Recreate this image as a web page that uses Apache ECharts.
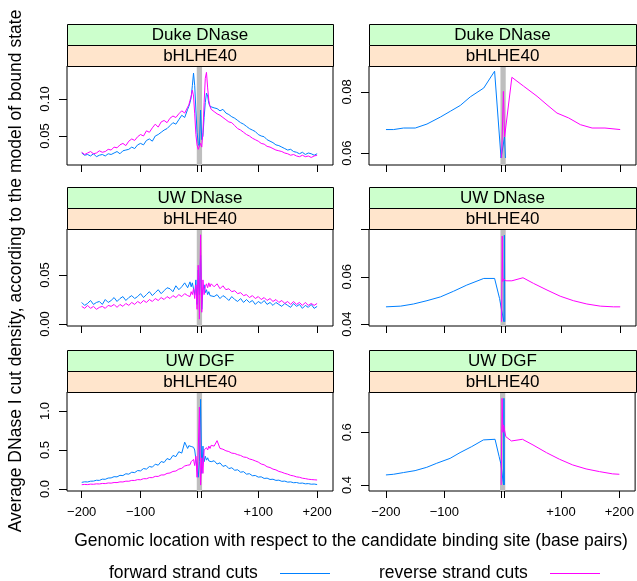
<!DOCTYPE html>
<html>
<head>
<meta charset="utf-8">
<script src="https://cdn.jsdelivr.net/npm/echarts@6/dist/echarts.min.js"></script>
<style>
html, body { margin: 0; padding: 0; background: #fff; }
#chart { width: 637px; height: 581px; }
</style>
</head>
<body>
<div id="chart"></div>
<script>
// strip labels
var datasets = ['Duke DNase', 'UW DNase', 'UW DGF'];
var factorName = 'bHLHE40';
var seriesNames = ['forward strand cuts', 'reverse strand cuts'];

// axis ticks
var xTicks = [-200, -100, -3, 3, 100, 200];
var xTickLabels = [-200, -100, 100, 200];
var yTicksLeft = [[0.05, 0.10], [0.00, 0.05], [0.0, 0.5, 1.0]];
var yLabelsLeft = [[0.05, 0.10], [0.00, 0.05], [0.0, 0.5, 1.0]];
var yTicksRight = [[0.06, 0.08], [0.04, 0.06, 0.08], [0.4, 0.6]];
var yLabelsRight = [[0.06, 0.08], [0.04, 0.06], [0.4, 0.6]];
var yDigits = [2, 2, 1];

// observed cut density, left column (per position)
var posObs = [-200,-195,-190,-185,-180,-175,-170,-165,-160,-155,-150,-145,-140,-135,-130,-125,-120,-115,-110,-105,-100,-95,-90,-85,-80,-75,-70,-65,-60,-55,-50,-45,-40,-35,-30,-25,-20,
  -18,-16,-14,-12,-10,-8,-6,-4,-2,0,2,4,6,8,10,12,14,16,18,
  20,25,30,35,40,45,50,55,60,65,70,75,80,85,90,95,100,105,110,115,120,125,130,135,140,145,150,155,160,165,170,175,180,185,190,195,200];

var dukeFwd = [.027,.024,.025,.023,.026,.022,.024,.025,.023,.026,.025,.027,.029,.026,.030,.031,.032,.035,.033,.038,.040,.038,.044,.046,.043,.050,.052,.055,.058,.060,.064,.068,.066,.072,.078,.075,.086,
  .090,.095,.102,.118,.135,.118,.085,.055,.040,.036,.085,.045,.050,.075,.095,.108,.104,.094,.090,
  .090,.088,.087,.084,.086,.081,.079,.076,.074,.071,.068,.066,.063,.060,.058,.056,.052,.050,.049,.045,.043,.041,.038,.037,.035,.033,.031,.032,.029,.028,.026,.028,.025,.027,.026,.024,.026];
var dukeRev = [.028,.025,.027,.029,.026,.027,.030,.028,.029,.032,.031,.035,.034,.038,.040,.037,.043,.046,.044,.049,.052,.050,.057,.055,.061,.066,.062,.069,.071,.068,.074,.077,.075,.080,.084,.081,.089,
  .092,.098,.104,.112,.104,.080,.052,.038,.032,.034,.040,.035,.055,.095,.128,.136,.115,.098,.090,
  .086,.083,.080,.078,.075,.072,.069,.068,.064,.060,.058,.055,.052,.050,.047,.045,.043,.040,.039,.036,.035,.033,.031,.030,.029,.027,.026,.024,.025,.023,.022,.024,.022,.023,.021,.023,.024];

var uwFwd = [.022,.019,.021,.024,.020,.022,.023,.020,.025,.022,.024,.027,.023,.026,.028,.024,.027,.029,.026,.028,.031,.027,.030,.033,.029,.032,.035,.031,.034,.037,.036,.033,.039,.035,.038,.042,.037,
  .040,.043,.038,.042,.040,.030,.045,.020,.055,.030,.070,.015,.035,.040,.032,.035,.030,.033,.029,
  .031,.028,.030,.026,.029,.027,.024,.028,.025,.023,.026,.022,.025,.022,.024,.020,.023,.021,.024,.020,.022,.019,.022,.020,.018,.021,.019,.017,.021,.018,.020,.016,.019,.017,.020,.016,.018];
var uwRev = [.018,.016,.019,.016,.018,.015,.017,.018,.016,.019,.018,.020,.017,.020,.018,.021,.019,.022,.020,.023,.021,.024,.022,.025,.023,.026,.024,.027,.025,.028,.026,.029,.027,.030,.028,.031,.029,
  .031,.028,.033,.030,.036,.026,.040,.015,.060,.005,.091,.012,.045,.030,.038,.041,.037,.042,.038,
  .041,.038,.041,.036,.039,.035,.036,.033,.034,.031,.032,.029,.030,.027,.029,.026,.028,.025,.027,.024,.026,.023,.025,.022,.024,.021,.023,.020,.023,.020,.022,.019,.022,.019,.021,.019,.021];

var dgfFwd = [.085,.092,.090,.100,.101,.112,.110,.126,.124,.140,.142,.158,.155,.175,.172,.195,.190,.215,.210,.236,.232,.262,.255,.288,.280,.318,.305,.352,.340,.390,.375,.430,.415,.478,.460,.600,.520,
  .555,.530,.545,.520,.535,.500,.380,.250,.150,.350,1.15,.200,.550,.350,.420,.370,.400,.360,.380,
  .350,.362,.320,.335,.290,.302,.262,.272,.240,.246,.215,.222,.190,.196,.170,.173,.152,.156,.135,.139,.122,.125,.110,.113,.098,.101,.088,.091,.080,.083,.073,.076,.066,.069,.061,.063,.057];
var dgfRev = [.055,.058,.056,.062,.060,.066,.064,.071,.069,.077,.075,.083,.082,.091,.090,.100,.099,.110,.109,.120,.118,.132,.131,.146,.145,.162,.161,.180,.180,.200,.205,.225,.230,.255,.265,.295,.305,
  .330,.310,.350,.330,.380,.300,.420,.150,.500,1.05,.050,.400,.200,.500,.480,.530,.500,.550,.520,
  .560,.550,.620,.520,.510,.490,.480,.460,.455,.440,.430,.410,.405,.385,.375,.360,.345,.320,.310,.285,.275,.255,.245,.225,.215,.200,.190,.175,.168,.155,.150,.138,.133,.125,.121,.118,.115];

// model of bound state, right column
var dukeFwdModelPos = [-200,-187,-170,-150,-130,-107,-90,-73,-56,-33,-14.5,-3.5,2.5,4];
var dukeFwdModel = [.0677,.0677,.0682,.0682,.0695,.0718,.0737,.0756,.0784,.0813,.0868,.0584,.0653,.0584];
var dukeRevModelPos = [-2.5,0.5,2.6,15,35,58,75,92,112,132,152,174,200];
var dukeRevModel = [.0584,.0802,.0653,.0848,.0819,.0786,.0758,.0731,.0715,.0693,.0682,.0682,.0677];

var uwFwdModelPos = [-200,-175,-153,-130,-107,-84.5,-62,-33,-14.5,-6,-3,1.5,2.2,3];
var uwFwdModel = [.0473,.0476,.0485,.0499,.0515,.0539,.0565,.0593,.0593,.0508,.0465,.041,.0776,.041];
var uwRevModelPos = [-2.5,-1.5,-0.5,1,4.8,15,34,52,75,97.5,120,143,166,188.5,200];
var uwRevModel = [.041,.0772,.058,.059,.0583,.0583,.0596,.0572,.0544,.0518,.0499,.0485,.0476,.0473,.0473];

var dgfFwdModelPos = [-200,-187,-170,-150,-130,-113,-90,-73,-53,-33,-13,-6,-3,1.5,2.2,3];
var dgfFwdModel = [.438,.4405,.447,.4544,.467,.4823,.501,.5228,.5456,.571,.5734,.5076,.4797,.40,.729,.40];
var dgfRevModelPos = [-2.5,-1,0.5,1.5,5.4,15,34,52,75,97.5,120,143,166,188.5,200];
var dgfRevModel = [.40,.729,.60,.628,.5835,.567,.5734,.552,.5228,.4975,.476,.4608,.4506,.442,.4405];

// layout
var FONT = 'Liberation Sans, Arial, Helvetica, sans-serif';
var BLUE = '#0080ff', MAGENTA = '#ff00ff';
var rows = [{top: 66, bottom: 165}, {top: 229, bottom: 326}, {top: 392, bottom: 491}];
var cols = [{left: 67, width: 266}, {left: 369, width: 267}];
var xRange = [[-225, 227], [-229, 227]];
var yRangeLeft = [[0.0108, 0.1446], [-0.002, 0.0969], [-0.026, 1.244]];
var yRangeRight = [[0.0561, 0.0885], [0.0392, 0.0802], [0.377, 0.753]];

function pairs(xs, ys) {
  return xs.map(function (x, i) { return [x, ys[i]]; });
}

var panelData = [
  [[posObs, dukeFwd], [posObs, dukeRev], [dukeFwdModelPos, dukeFwdModel], [dukeRevModelPos, dukeRevModel]],
  [[posObs, uwFwd], [posObs, uwRev], [uwFwdModelPos, uwFwdModel], [uwRevModelPos, uwRevModel]],
  [[posObs, dgfFwd], [posObs, dgfRev], [dgfFwdModelPos, dgfFwdModel], [dgfRevModelPos, dgfRevModel]]
];

var grids = [], xAxes = [], yAxes = [], series = [], graphics = [];

for (var r = 0; r < 3; r++) {
  for (var c = 0; c < 2; c++) {
    var idx = r * 2 + c;
    var col = cols[c], row = rows[r];
    grids.push({
      left: col.left, top: row.top, width: col.width, height: row.bottom - row.top,
      show: true, borderColor: '#000', borderWidth: 1, backgroundColor: 'transparent'
    });
    xAxes.push({
      gridIndex: idx, type: 'value', min: xRange[c][0], max: xRange[c][1], position: 'bottom',
      axisLine: {show: false, onZero: false}, splitLine: {show: false},
      axisTick: {show: true, inside: false, length: 7, lineStyle: {color: '#000'}, customValues: xTicks},
      axisLabel: {
        show: r === 2, customValues: xTickLabels, margin: 15,
        fontFamily: FONT, fontSize: 13, color: '#000',
        formatter: function (v) { return v < 0 ? '\u2212' + (-v) : '+' + v; }
      }
    });
    var yr = c === 0 ? yRangeLeft[r] : yRangeRight[r];
    var digits = yDigits[r];
    yAxes.push({
      gridIndex: idx, type: 'value', min: yr[0], max: yr[1], position: 'left',
      axisLine: {show: false, onZero: false}, splitLine: {show: false},
      axisTick: {show: true, inside: false, length: 8, lineStyle: {color: '#000'},
        customValues: c === 0 ? yTicksLeft[r] : yTicksRight[r]},
      axisLabel: {
        customValues: c === 0 ? yLabelsLeft[r] : yLabelsRight[r],
        rotate: 90, margin: 15, align: 'center', verticalAlign: 'bottom',
        fontFamily: FONT, fontSize: 13, color: '#000',
        formatter: (function (d) { return function (v) { return v.toFixed(d); }; })(digits)
      }
    });
    var pd = panelData[r];
    var fwd = c === 0 ? pd[0] : pd[2];
    var rev = c === 0 ? pd[1] : pd[3];
    series.push({
      name: seriesNames[0], type: 'line', xAxisIndex: idx, yAxisIndex: idx,
      data: pairs(fwd[0], fwd[1]), symbol: 'none', lineStyle: {color: BLUE, width: 1},
      itemStyle: {color: BLUE},
      markArea: {silent: true, itemStyle: {color: '#bebebe'},
        data: [[{xAxis: -4.5}, {xAxis: 4.5}]]}
    });
    series.push({
      name: seriesNames[1], type: 'line', xAxisIndex: idx, yAxisIndex: idx,
      data: pairs(rev[0], rev[1]), symbol: 'none', lineStyle: {color: MAGENTA, width: 1},
      itemStyle: {color: MAGENTA}
    });
    // strips
    var stripTexts = [datasets[r], factorName];
    var stripFills = ['#ccffcc', '#ffe5cc'];
    for (var s = 0; s < 2; s++) {
      var sy = row.top - 42 + s * 21;
      graphics.push({
        type: 'rect', shape: {x: col.left + 0.5, y: sy + 0.5, width: col.width, height: 21},
        style: {fill: stripFills[s], stroke: '#000', lineWidth: 1}, z: 10
      });
      graphics.push({
        type: 'text', x: col.left + col.width / 2, y: sy + 11.5, z: 11,
        style: {text: stripTexts[s], fontFamily: FONT, fontSize: 17, fill: '#000',
          textAlign: 'center', textVerticalAlign: 'middle'}
      });
    }
  }
}

// axis titles
graphics.push({
  type: 'text', x: 16.5, y: 271, rotation: Math.PI / 2, z: 11,
  style: {text: 'Average DNase I cut density, according to the model of bound state',
    fontFamily: FONT, fontSize: 17.5, fill: '#000', textAlign: 'center', textVerticalAlign: 'middle'}
});
graphics.push({
  type: 'text', x: 351, y: 541, z: 11,
  style: {text: 'Genomic location with respect to the candidate binding site (base pairs)',
    fontFamily: FONT, fontSize: 17.5, fill: '#000', textAlign: 'center', textVerticalAlign: 'middle'}
});

// legend
var legendItems = [
  {text: seriesNames[0], x: 109, lx: 280, color: BLUE},
  {text: seriesNames[1], x: 379, lx: 550, color: MAGENTA}
];
legendItems.forEach(function (it) {
  graphics.push({
    type: 'text', x: it.x, y: 573, z: 11,
    style: {text: it.text, fontFamily: FONT, fontSize: 17.5, fill: '#000',
      textAlign: 'left', textVerticalAlign: 'middle'}
  });
  graphics.push({
    type: 'line', shape: {x1: it.lx, y1: 573.5, x2: it.lx + 50, y2: 573.5}, z: 11,
    style: {stroke: it.color, lineWidth: 1}
  });
});

var myChart = echarts.init(document.getElementById('chart'), null, {renderer: 'canvas'});
myChart.setOption({
  animation: false,
  backgroundColor: '#fff',
  grid: grids,
  xAxis: xAxes,
  yAxis: yAxes,
  series: series,
  graphic: graphics
});
</script>
</body>
</html>
